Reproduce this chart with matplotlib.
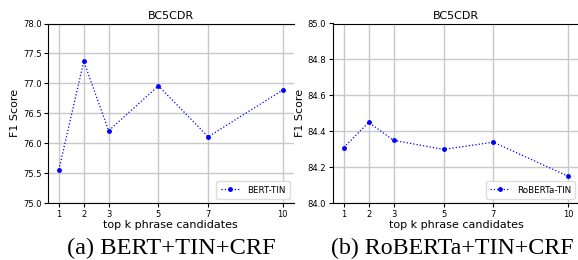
import matplotlib
matplotlib.use("Agg")
import matplotlib.pyplot as plt

# top-k candidates and F1 scores
K = [1, 2, 3, 5, 7, 10]
BERT_F1 = [75.56, 77.37, 76.21, 76.96, 76.11, 76.89]
ROBERTA_F1 = [84.31, 84.45, 84.35, 84.30, 84.34, 84.15]

W, H = 578, 260


def _panel(ax, y, label, ylim, yticks):
    ax.plot(K, y, color="blue", linestyle=":", linewidth=0.9,
            marker="o", markersize=2.5, label=label)
    ax.set_xticks(K)
    ax.set_ylim(*ylim)
    ax.set_yticks(yticks)
    ax.set_xlim(0.55, 10.45)
    ax.set_title("BC5CDR", fontsize=8, pad=3)
    ax.set_xlabel("top k phrase candidates", fontsize=8, labelpad=1)
    ax.set_ylabel("F1 Score", fontsize=8, labelpad=2)
    ax.tick_params(labelsize=6, length=3, width=0.8, pad=1.5)
    ax.grid(True, color="#c8c8c8", linewidth=1.0)
    ax.set_axisbelow(True)
    ax.legend(loc="lower right", fontsize=6.3, handlelength=2.2,
              borderpad=0.5, fancybox=True, framealpha=1.0,
              edgecolor="#dddddd")


fig = plt.figure(figsize=(W / 100, H / 100), dpi=100)
ax1 = fig.add_axes([47.7 / W, 1 - 203.3 / H, (294 - 47.7) / W, (203.3 - 23.5) / H])
ax2 = fig.add_axes([332.5 / W, 1 - 203.3 / H, (579.5 - 332.5) / W, (203.3 - 23.5) / H])

_panel(ax1, BERT_F1, "BERT-TIN", (75.0, 78.0), [75.0, 75.5, 76.0, 76.5, 77.0, 77.5, 78.0])
_panel(ax2, ROBERTA_F1, "RoBERTa-TIN", (84.0, 85.0), [84.0, 84.2, 84.4, 84.6, 84.8, 85.0])
ax1.yaxis.set_major_formatter(matplotlib.ticker.FormatStrFormatter("%.1f"))
ax2.yaxis.set_major_formatter(matplotlib.ticker.FormatStrFormatter("%.1f"))
ax1.spines["right"].set_visible(False)

fig.text(171.5 / W, 1 - 254.5 / H, "(a) BERT+TIN+CRF", ha="center", va="baseline",
         fontsize=17.6, family="Liberation Serif")
fig.text(452.5 / W, 1 - 254.5 / H, "(b) RoBERTa+TIN+CRF", ha="center", va="baseline",
         fontsize=17.2, family="Liberation Serif")

fig.savefig("out.png", dpi=100)
